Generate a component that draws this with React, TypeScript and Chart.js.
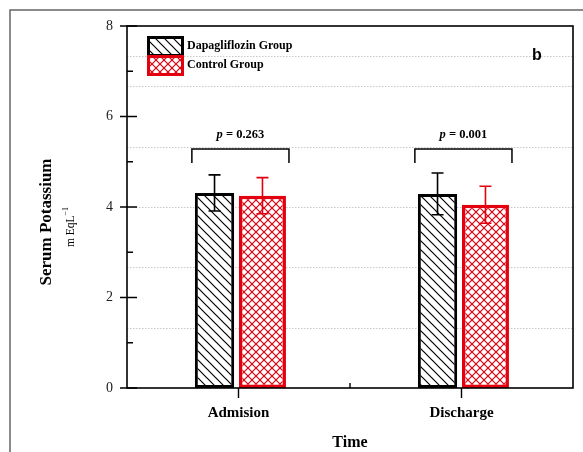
import React, { useEffect, useRef } from "react";
import { Chart, registerables } from "chart.js";

Chart.register(...registerables);

const categories = ["Admision", "Discharge"];
const dapaMeans = [4.31, 4.29];
const dapaErrors = [0.4, 0.46];
const ctrlMeans = [4.25, 4.05];
const ctrlErrors = [0.4, 0.41];
const pValues = ["0.263", "0.001"];
const bracketTop = 5.28;
const bracketBottom = 4.97;
const pTextValue = 5.59;
const yMajorTicks = [0, 2, 4, 6, 8];
const yMinorTicks = [1, 3, 5, 7];
const gridValues = [1.333, 2.667, 4, 5.333, 6.667, 7.33];

const SERIF = "'Liberation Serif', 'Times New Roman', serif";
const RED = "#e3000f";

function makeHatch(color: string, size: number, cross: boolean): CanvasPattern | string {
  const c = document.createElement("canvas");
  c.width = size;
  c.height = size;
  const g = c.getContext("2d");
  if (!g) return "#fff";
  g.fillStyle = "#fff";
  g.fillRect(0, 0, size, size);
  g.strokeStyle = color;
  g.lineWidth = 1.2;
  const back = () => {
    g.beginPath();
    g.moveTo(-1, -1);
    g.lineTo(size + 1, size + 1);
    g.moveTo(size - 1, -1);
    g.lineTo(size + 1, 1);
    g.moveTo(-1, size - 1);
    g.lineTo(1, size + 1);
    g.stroke();
  };
  const fwd = () => {
    g.beginPath();
    g.moveTo(size + 1, -1);
    g.lineTo(-1, size + 1);
    g.moveTo(1, -1);
    g.lineTo(-1, 1);
    g.moveTo(size + 1, size - 1);
    g.lineTo(size - 1, size + 1);
    g.stroke();
  };
  back();
  if (cross) fwd();
  const p = g.createPattern(c, "repeat");
  return p || "#fff";
}

export default function App() {
  const ref = useRef<HTMLCanvasElement | null>(null);

  useEffect(() => {
    const canvas = ref.current;
    if (!canvas) return;
    const ctx = canvas.getContext("2d");
    if (!ctx) return;
    const hatch = makeHatch("#000", 9, false);
    const cross = makeHatch(RED, 8, true);
    const errs = [dapaErrors, ctrlErrors];
    const errColors = ["#000", RED];

    const custom = {
      id: "custom",
      beforeDatasetsDraw(chart: any) {
        const c = chart.ctx;
        const ca = chart.chartArea;
        const y = chart.scales.y;
        c.save();
        c.strokeStyle = "#c8c8c8";
        c.lineWidth = 1;
        c.setLineDash([1.5, 1.5]);
        gridValues.forEach((v) => {
          const py = Math.round(y.getPixelForValue(v)) + 0.5;
          c.beginPath();
          c.moveTo(ca.left, py);
          c.lineTo(ca.right, py);
          c.stroke();
        });
        c.restore();
      },
      afterDatasetsDraw(chart: any) {
        const c = chart.ctx;
        const ca = chart.chartArea;
        const y = chart.scales.y;
        const x = chart.scales.x;
        c.save();
        // error bars
        chart.data.datasets.forEach((ds: any, di: number) => {
          const meta = chart.getDatasetMeta(di);
          meta.data.forEach((bar: any, i: number) => {
            const m = ds.data[i];
            const e = errs[di][i];
            const yt = y.getPixelForValue(m + e);
            const yb = y.getPixelForValue(m - e);
            c.strokeStyle = errColors[di];
            c.lineWidth = 1.6;
            c.beginPath();
            c.moveTo(bar.x, yt);
            c.lineTo(bar.x, yb);
            c.moveTo(bar.x - 6, yt);
            c.lineTo(bar.x + 6, yt);
            c.moveTo(bar.x - 6, yb);
            c.lineTo(bar.x + 6, yb);
            c.stroke();
          });
        });
        // plot frame
        c.strokeStyle = "#000";
        c.lineWidth = 1.6;
        c.strokeRect(ca.left, ca.top, ca.right - ca.left, ca.bottom - ca.top);
        // y ticks
        c.lineWidth = 1.4;
        c.beginPath();
        yMajorTicks.forEach((v) => {
          const py = y.getPixelForValue(v);
          c.moveTo(ca.left - 7, py);
          c.lineTo(ca.left + 10, py);
        });
        yMinorTicks.forEach((v) => {
          const py = y.getPixelForValue(v);
          c.moveTo(ca.left, py);
          c.lineTo(ca.left + 6, py);
        });
        // x ticks
        categories.forEach((_, i) => {
          const px = x.getPixelForValue(i);
          c.moveTo(px, ca.bottom);
          c.lineTo(px, ca.bottom + 10);
        });
        for (let i = 0; i < categories.length - 1; i++) {
          const px = (x.getPixelForValue(i) + x.getPixelForValue(i + 1)) / 2;
          c.moveTo(px, ca.bottom);
          c.lineTo(px, ca.bottom - 5);
        }
        c.stroke();
        // brackets & p values
        const m0 = chart.getDatasetMeta(0);
        const m1 = chart.getDatasetMeta(1);
        categories.forEach((_, i) => {
          const b0 = m0.data[i];
          const b1 = m1.data[i];
          const xl = b0.x - b0.width / 2 - 3;
          const xr = b1.x + b1.width / 2 + 3;
          const yt = y.getPixelForValue(bracketTop);
          const yb = y.getPixelForValue(bracketBottom);
          c.strokeStyle = "#000";
          c.lineWidth = 1.5;
          c.beginPath();
          c.moveTo(xl, yb);
          c.lineTo(xl, yt);
          c.lineTo(xr, yt);
          c.lineTo(xr, yb);
          c.stroke();
          const cx = (xl + xr) / 2;
          const ty = y.getPixelForValue(pTextValue);
          c.fillStyle = "#000";
          c.textBaseline = "middle";
          c.font = `italic bold 12.5px ${SERIF}`;
          const pw = c.measureText("p").width;
          c.font = `bold 12.5px ${SERIF}`;
          const rest = " = " + pValues[i];
          const rw = c.measureText(rest).width;
          const sx = cx - (pw + rw) / 2;
          c.textAlign = "left";
          c.font = `italic bold 12.5px ${SERIF}`;
          c.fillText("p", sx, ty);
          c.font = `bold 12.5px ${SERIF}`;
          c.fillText(rest, sx + pw, ty);
        });
        // legend
        const sw = [
          { fill: hatch, stroke: "#000", y: 37 },
          { fill: cross, stroke: RED, y: 56 },
        ];
        chart.data.datasets.forEach((ds: any, di: number) => {
          const s = sw[di];
          c.fillStyle = s.fill;
          c.fillRect(148, s.y, 35, 19);
          c.strokeStyle = s.stroke;
          c.lineWidth = 3;
          c.strokeRect(148.5, s.y + 0.5, 34, 18);
          c.fillStyle = "#000";
          c.font = `bold 12px ${SERIF}`;
          c.textAlign = "left";
          c.textBaseline = "middle";
          c.fillText(ds.label, 187, s.y + 9);
        });
        // panel letter
        c.font = "bold 16px 'Liberation Sans', Arial, sans-serif";
        c.textAlign = "center";
        c.fillText("b", 537, 56);
        // x title
        c.font = `bold 16px ${SERIF}`;
        c.textBaseline = "middle";
        c.fillText("Time", (ca.left + ca.right) / 2, 443);
        // y title
        c.save();
        c.translate(ca.left - 80, 222);
        c.rotate(-Math.PI / 2);
        c.font = `bold 17px ${SERIF}`;
        c.textAlign = "center";
        c.fillText("Serum Potassium", 0, 0);
        c.restore();
        c.save();
        c.translate(ca.left - 56, 227);
        c.rotate(-Math.PI / 2);
        c.font = `11.5px ${SERIF}`;
        const main = "m EqL";
        const mw = c.measureText(main).width;
        c.font = `8px ${SERIF}`;
        const sup = "\u22121";
        const supw = c.measureText(sup).width;
        const start = -(mw + supw) / 2;
        c.font = `11.5px ${SERIF}`;
        c.textAlign = "left";
        c.fillText(main, start, 0);
        c.font = `8px ${SERIF}`;
        c.fillText(sup, start + mw, -5);
        c.restore();
        // outer frame
        c.strokeStyle = "#666";
        c.lineWidth = 1.5;
        c.beginPath();
        c.moveTo(10, 452);
        c.lineTo(10, 10);
        c.lineTo(583, 10);
        c.stroke();
        c.restore();
      },
    };

    const chart = new Chart(ctx, {
      type: "bar",
      data: {
        labels: categories,
        datasets: [
          {
            label: "Dapagliflozin Group",
            data: dapaMeans,
            backgroundColor: hatch as any,
            borderColor: "#000",
            borderWidth: 3,
            borderSkipped: false,
            barPercentage: 0.82,
            categoryPercentage: 0.43,
          },
          {
            label: "Control Group",
            data: ctrlMeans,
            backgroundColor: cross as any,
            borderColor: RED,
            borderWidth: 3.5,
            borderSkipped: false,
            barPercentage: 0.98,
            categoryPercentage: 0.43,
          },
        ],
      },
      options: {
        responsive: false,
        animation: false,
        layout: { padding: { top: 26, right: 10, left: 0, bottom: 0 } },
        plugins: { legend: { display: false }, tooltip: { enabled: false } },
        scales: {
          x: {
            grid: { display: false },
            border: { display: false },
            ticks: { color: "#000", font: { family: SERIF, size: 15, weight: "bold" }, padding: 8 },
            afterFit: (s: any) => {
              s.height = 64;
            },
          },
          y: {
            min: 0,
            max: 8,
            grid: { display: false },
            border: { display: false },
            ticks: { stepSize: 2, color: "#222", font: { family: SERIF, size: 14 }, padding: 6 },
            afterFit: (s: any) => {
              s.width = 127;
            },
          },
        },
      },
      plugins: [custom],
    } as any);
    return () => chart.destroy();
  }, []);

  return (
    <div style={{ position: "absolute", left: 0, top: 0, width: 583, height: 452, background: "#fff" }}>
      <canvas ref={ref} width={583} height={452} style={{ display: "block" }} />
    </div>
  );
}
